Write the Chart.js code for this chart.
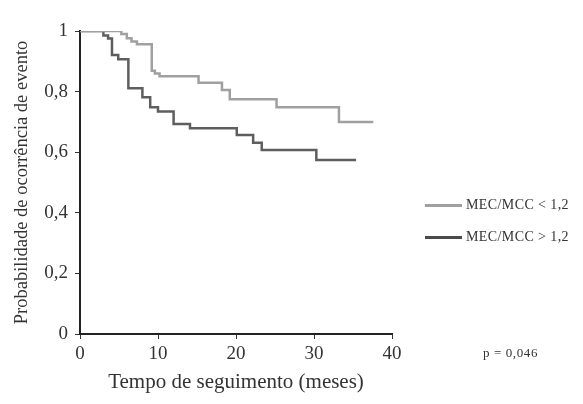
<!DOCTYPE html>
<html>
<head>
<meta charset="utf-8">
<script src="https://cdn.jsdelivr.net/npm/chart.js@4"></script>
<style>
  body { margin: 0; background: #fff; }
  #wrap { position: relative; width: 583px; height: 404px; }
  .leg { position: absolute; left: 425px; font: 14px "Liberation Serif", serif; letter-spacing: 0.4px; color: #333; display: flex; align-items: center; }
  .leg span.ln { display: inline-block; width: 37px; height: 0; margin-right: 4px; }
  #pval { position: absolute; left: 483px; top: 345px; font: 13px "Liberation Serif", serif; letter-spacing: 0.6px; color: #333; }
</style>
</head>
<body>
<div id="wrap">
  <canvas id="km" width="583" height="404"></canvas>
  <div class="leg" style="top:197px"><span class="ln" style="border-top:3px solid #a0a0a0"></span>MEC/MCC &lt; 1,2</div>
  <div class="leg" style="top:229px"><span class="ln" style="border-top:3px solid #4a4a4a"></span>MEC/MCC &gt; 1,2</div>
  <div id="pval">p = 0,046</div>
</div>
<script>
// Kaplan-Meier steps: time (months) at which the curve drops, and value after the drop
const lowTimes  = [0, 5.3, 6.0, 6.6, 7.3, 9.2, 9.6, 10.2, 15.2, 18.2, 19.2, 25.2, 33.2, 37.6];
const lowValues = [1, 0.99, 0.976, 0.965, 0.956, 0.869, 0.86, 0.851, 0.829, 0.805, 0.775, 0.748, 0.70, 0.70];

const highTimes  = [0, 3.0, 3.6, 4.1, 4.9, 6.2, 8.0, 9.0, 10.0, 12.0, 14.1, 20.1, 22.2, 23.3, 30.3, 35.4];
const highValues = [1, 0.985, 0.975, 0.921, 0.907, 0.811, 0.781, 0.748, 0.734, 0.693, 0.679, 0.657, 0.631, 0.607, 0.574, 0.574];

const xTicks = [0, 10, 20, 30, 40];
const yTicks = [0, 0.2, 0.4, 0.6, 0.8, 1];
const yTickLabels = ['0', '0,2', '0,4', '0,6', '0,8', '1'];

function toPoints(ts, vs) {
  return ts.map((t, i) => ({ x: t, y: vs[i] }));
}

const serif = '"Liberation Serif", "DejaVu Serif", serif';

new Chart(document.getElementById('km'), {
  type: 'line',
  data: {
    datasets: [
      {
        label: 'MEC/MCC < 1,2',
        data: toPoints(lowTimes, lowValues),
        borderColor: '#a0a0a0',
        borderWidth: 2.5,
        stepped: true,
        pointRadius: 0,
        fill: false
      },
      {
        label: 'MEC/MCC > 1,2',
        data: toPoints(highTimes, highValues),
        borderColor: '#5e5e5e',
        borderWidth: 2.5,
        stepped: true,
        pointRadius: 0,
        fill: false
      }
    ]
  },
  options: {
    responsive: false,
    animation: false,
    layout: { padding: { left: 0, right: 191, top: 31, bottom: 0 } },
    plugins: { legend: { display: false }, tooltip: { enabled: false } },
    scales: {
      x: {
        type: 'linear',
        min: 0,
        max: 40,
        afterBuildTicks: function(axis) { axis.ticks = xTicks.map(v => ({ value: v })); },
        afterFit: function(axis) { axis.height = 70; },
        border: { display: true, color: '#222', width: 2 },
        grid: { drawOnChartArea: false, drawTicks: true, tickLength: 5, color: '#333', lineWidth: 1 },
        ticks: { color: '#333', font: { family: serif, size: 19 }, padding: 4, maxRotation: 0 },
        title: { display: true, text: 'Tempo de seguimento (meses)', color: '#333', font: { family: serif, size: 21 }, padding: { top: 0, bottom: 9 } }
      },
      y: {
        min: 0,
        max: 1,
        afterBuildTicks: function(axis) { axis.ticks = yTicks.map(v => ({ value: v })); },
        afterFit: function(axis) { axis.width = 80; },
        border: { display: true, color: '#222', width: 2 },
        grid: { drawOnChartArea: false, drawTicks: true, tickLength: 5, color: '#333', lineWidth: 1 },
        ticks: {
          color: '#333',
          font: { family: serif, size: 19 },
          padding: 7,
          callback: function(value) {
            const i = yTicks.findIndex(v => Math.abs(v - value) < 1e-6);
            return i >= 0 ? yTickLabels[i] : '';
          }
        },
        title: { display: true, text: 'Probabilidade de ocorrência de evento', color: '#333', font: { family: serif, size: 18.5 }, padding: { bottom: 0, top: 11 } }
      }
    }
  }
});
</script>
</body>
</html>
